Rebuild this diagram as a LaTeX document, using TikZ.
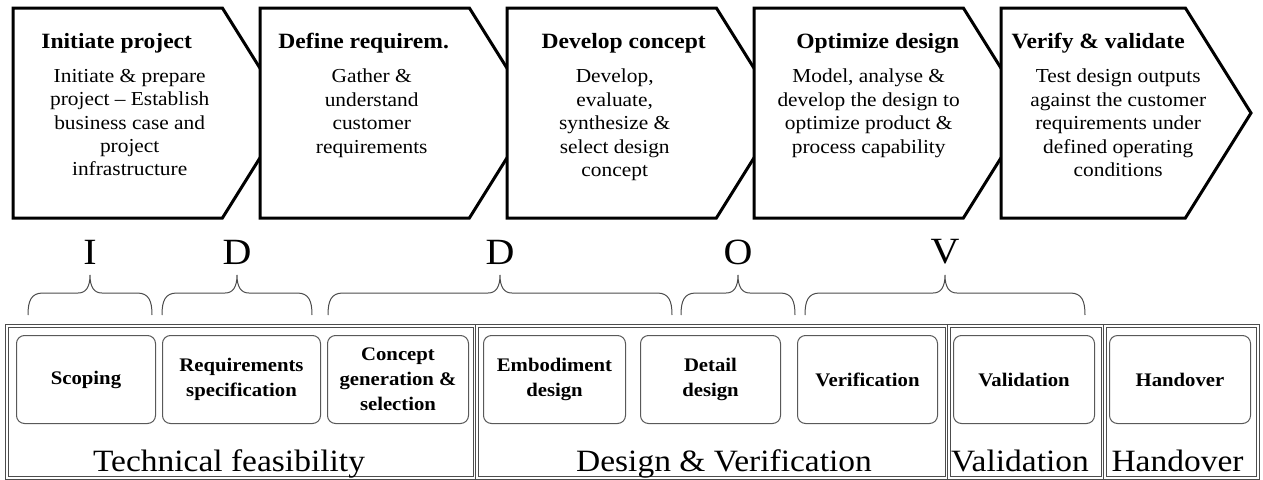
\documentclass[tikz,border=0pt]{standalone}
\usepackage{fontspec}
\setmainfont{Liberation Serif}[FakeStretch=1.08]
\usetikzlibrary{shapes.symbols, positioning}

% brace over the stages: left x, right x, name, letter
\newcommand{\phasebrace}[4]{%
  \draw[brc] (#1,315) .. controls (#1,301) and (#1+3,293) .. (#1+15,293)
    -- ({(#1+#2)/2-12},293) .. controls ({(#1+#2)/2-4},293) and ({(#1+#2)/2},287) .. ({(#1+#2)/2},275)
    node[letter, above=10pt] (#3) {#4}
    .. controls ({(#1+#2)/2},287) and ({(#1+#2)/2+4},293) .. ({(#1+#2)/2+12},293)
    -- (#2-15,293) .. controls (#2-3,293) and (#2,301) .. (#2,315);}

\begin{document}
\begin{tikzpicture}[
    x=1pt, y=-1pt,
    chev/.style={shape=signal, signal to=east, signal pointer angle=116, draw=black, line width=3pt, fill=white, minimum height=210pt, minimum width=275pt, inner sep=0pt, outer sep=0pt},
    ttl/.style={font=\fontsize{21.8}{24}\selectfont\bfseries, inner sep=0pt, anchor=base},
    txt/.style={font=\fontsize{19.8}{23.4}\selectfont, align=center, inner sep=0pt, anchor=north},
    stage/.style={draw=black!65, line width=1pt, rounded corners=8pt, fill=white, minimum height=88pt, align=center, inner sep=2pt, font=\fontsize{19.2}{25}\selectfont\bfseries},
    grp/.style={draw=black!70, double, double distance=1.8pt, line width=0.7pt, minimum height=152pt, inner sep=0pt, outer sep=0pt},
    grplab/.style={font=\fontsize{31}{32}\selectfont, inner sep=0pt},
    brc/.style={draw=black!70, line width=1pt},
    letter/.style={font=\fontsize{37}{37}\selectfont, inner sep=0pt},
  ]
  \useasboundingbox (0,0) rectangle (1263,479);
  % ---- phase chevrons
  \node[chev, anchor=west] (ini) at (13,113) {};
  \node[chev, right=-28pt of ini] (def) {};
  \node[chev, right=-28pt of def] (dev) {};
  \node[chev, right=-28pt of dev] (opt) {};
  \node[chev, right=-28pt of opt, minimum width=250pt] (ver) {};
  % ---- titles and texts
  \node[ttl, xshift=-1pt] (iniT) at (ini.center |- 0,48) {Initiate project};
  \node[ttl, xshift=-1pt] (defT) at (def.center |- 0,48) {Define requirem.};
  \node[ttl, xshift=12pt] (devT) at (dev.center |- 0,48) {Develop concept};
  \node[ttl, xshift=19pt] (optT) at (opt.center |- 0,48) {Optimize design};
  \node[ttl, xshift=5pt] (verT) at (ver.center |- 0,48) {Verify \& validate};
  \node[txt, xshift=12pt] (iniB) at (ini.center |- 0,69) {Initiate \& prepare\\ project -- Establish\\ business case and\\ project\\ infrastructure};
  \node[txt, xshift=7pt] (defB) at (def.center |- 0,69) {Gather \&\\ understand\\ customer\\ requirements};
  \node[txt, xshift=3pt] (devB) at (dev.center |- 0,69) {Develop,\\ evaluate,\\ synthesize \&\\ select design\\ concept};
  \node[txt, xshift=10pt] (optB) at (opt.center |- 0,69) {Model, analyse \&\\ develop the design to\\ optimize product \&\\ process capability};
  \node[txt, xshift=25pt] (verB) at (ver.center |- 0,69) {Test design outputs\\ against the customer\\ requirements under\\ defined operating\\ conditions};
  % ---- braces with the letters
  \phasebrace{28}{152}{lI}{I}
  \phasebrace{162}{312}{lD1}{D}
  \phasebrace{328}{672}{lD2}{D}
  \phasebrace{681}{795}{lO}{O}
  \phasebrace{805}{1085}{lV}{V}
  % ---- groups
  \node[grp, minimum width=468pt, anchor=north west] (tech) at (7,326) {};
  \node[grp, minimum width=470pt, right=2pt of tech] (desi) {};
  \node[grp, minimum width=154pt, right=2pt of desi] (vali) {};
  \node[grp, minimum width=153pt, right=2pt of vali] (hand) {};
  \node[grplab, above=7pt of tech.south, anchor=base, xshift=-12pt] (techL) {Technical feasibility};
  \node[grplab, above=7pt of desi.south, anchor=base, xshift=12pt] (desiL) {Design \& Verification};
  \node[grplab, above=7pt of vali.south, anchor=base, xshift=-6pt] (valiL) {Validation};
  \node[grplab, above=7pt of hand.south, anchor=base, xshift=-4pt] (handL) {Handover};
  % ---- stages
  \node[stage, minimum width=139pt, anchor=north west] (scop) at (16,335) {Scoping};
  \node[stage, minimum width=158pt, right=6pt of scop] (reqs) {Requirements\\ specification};
  \node[stage, minimum width=141pt, right=6pt of reqs] (conc) {Concept\\ generation \&\\ selection};
  \node[stage, minimum width=142pt, right=14pt of conc] (embo) {Embodiment\\ design};
  \node[stage, minimum width=140pt, right=14pt of embo] (deta) {Detail\\ design};
  \node[stage, minimum width=140pt, right=16pt of deta] (veri) {Verification};
  \node[stage, minimum width=141pt, right=15pt of veri] (vald) {Validation};
  \node[stage, minimum width=141pt, right=14pt of vald] (hovr) {Handover};
\end{tikzpicture}
\end{document}
